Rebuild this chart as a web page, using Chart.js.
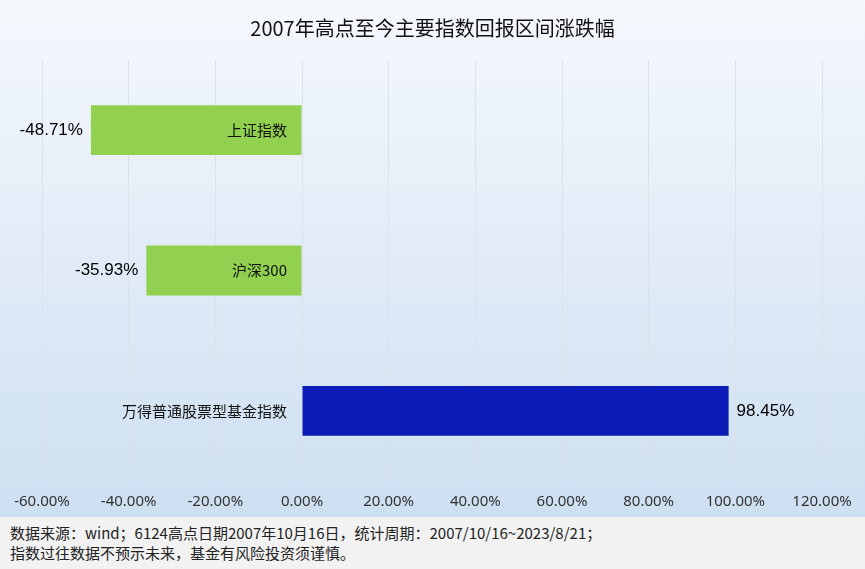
<!DOCTYPE html>
<html>
<head>
<meta charset="utf-8">
<script src="https://cdn.jsdelivr.net/npm/chart.js@4.4.0/dist/chart.umd.min.js"></script>
<style>
    body { margin: 0; background: #fff; }
    #wrap { width: 865px; height: 517px; }
    #footer {
        width: 865px; height: 52px; background: #f2f2f2; box-sizing: border-box;
        padding: 6px 0 0 10px; font: 15px "Noto Sans CJK SC", sans-serif; color: #222; line-height: 20px;
    }
</style>
</head>
<body>
<div id="wrap"><canvas id="returnChart" width="865" height="517"></canvas></div>
<div id="footer">数据来源：wind；6124高点日期2007年10月16日，统计周期：2007/10/16~2023/8/21；<br>指数过往数据不预示未来，基金有风险投资须谨慎。</div>
<script>
// categories and values (%)
const indexNames = ['上证指数', '沪深300', '万得普通股票型基金指数'];
const returnValues = [-48.71, -35.93, 98.45];
const barColors = ['#92d050', '#92d050', '#0d1bb6'];
const tickMin = -60, tickMax = 120, tickStep = 20;

// background gradient + title
const backgroundPlugin = {
    id: 'bg',
    beforeDraw(chart) {
        const ctx = chart.ctx;
        const g = ctx.createLinearGradient(0, 0, 0, chart.height);
        g.addColorStop(0, '#f5f8fd');
        g.addColorStop(1, '#cddff1');
        ctx.save();
        ctx.fillStyle = g;
        ctx.fillRect(0, 0, chart.width, chart.height);
        ctx.fillStyle = '#111';
        ctx.font = '20px "Noto Sans CJK SC"';
        ctx.textAlign = 'center';
        ctx.textBaseline = 'middle';
        ctx.fillText('2007年高点至今主要指数回报区间涨跌幅', chart.width / 2, 28);
        ctx.restore();
    }
};

// category name near the zero line, value at the bar end
const labelPlugin = {
    id: 'barLabels',
    afterDatasetsDraw(chart) {
        const ctx = chart.ctx;
        const meta = chart.getDatasetMeta(0);
        const zeroX = chart.scales.x.getPixelForValue(0);
        ctx.save();
        ctx.textBaseline = 'middle';
        meta.data.forEach((bar, i) => {
            const v = returnValues[i];
            ctx.fillStyle = '#111';
            ctx.font = '15px "Noto Sans CJK SC"';
            ctx.textAlign = 'right';
            ctx.fillText(indexNames[i], zeroX - 15, bar.y);

            ctx.font = '17px "Liberation Sans"';
            ctx.fillStyle = '#000';
            if (v < 0) {
                ctx.textAlign = 'right';
                ctx.fillText(v.toFixed(2) + '%', bar.x - 8, bar.y);
            } else {
                ctx.textAlign = 'left';
                ctx.fillText(v.toFixed(2) + '%', bar.x + 8, bar.y);
            }
        });
        ctx.restore();
    }
};

window.onload = function() {
    const ctx = document.getElementById('returnChart').getContext('2d');
    new Chart(ctx, {
        type: 'bar',
        data: {
            labels: indexNames,
            datasets: [{
                data: returnValues,
                backgroundColor: barColors,
                borderWidth: 0,
                barPercentage: 0.355,
                categoryPercentage: 1
            }]
        },
        options: {
            indexAxis: 'y',
            responsive: false,
            animation: false,
            layout: { padding: { left: 42, right: 43, top: 60, bottom: -5 } },
            plugins: {
                legend: { display: false },
                tooltip: { enabled: false }
            },
            scales: {
                x: {
                    min: tickMin,
                    max: tickMax,
                    ticks: {
                        stepSize: tickStep,
                        padding: 13,
                        color: '#333',
                        font: { family: 'Noto Sans', size: 15, lineHeight: 1 },
                        callback: v => v.toFixed(2) + '%'
                    },
                    grid: { color: '#dce2ea', drawTicks: false },
                    border: { display: false }
                },
                y: { display: false }
            }
        },
        plugins: [backgroundPlugin, labelPlugin]
    });
};
</script>
</body>
</html>
